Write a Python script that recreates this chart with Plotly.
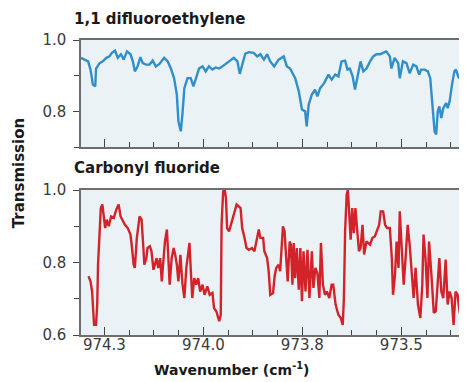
import plotly.graph_objects as go

# ---------------- data ----------------
blue_wn = [974.309, 974.291, 974.285, 974.279, 974.273, 974.271, 974.262, 974.254, 974.245, 974.237,
           974.231, 974.223, 974.216, 974.208, 974.201, 974.193, 974.184, 974.178, 974.173, 974.166,
           974.159, 974.153, 974.145, 974.136, 974.128, 974.120, 974.111, 974.105, 974.099, 974.090,
           974.082, 974.074, 974.067, 974.063, 974.057, 974.053, 974.048, 974.040, 974.032, 974.025,
           974.019, 974.011, 974.002, 973.994, 973.986, 973.977, 973.969, 973.960, 973.952, 973.940,
           973.923, 973.914, 973.908, 973.902, 973.894, 973.885, 973.873, 973.864, 973.856, 973.847,
           973.839, 973.831, 973.821, 973.810, 973.797, 973.789, 973.781, 973.768, 973.759, 973.751,
           973.743, 973.739, 973.734, 973.726, 973.718, 973.712, 973.705, 973.695, 973.684, 973.676,
           973.667, 973.659, 973.651, 973.642, 973.636, 973.630, 973.623, 973.617, 973.611, 973.603,
           973.596, 973.588, 973.579, 973.571, 973.563, 973.554, 973.546, 973.538, 973.529, 973.525,
           973.517, 973.508, 973.504, 973.496, 973.487, 973.479, 973.470, 973.462, 973.455, 973.450,
           973.441, 973.433, 973.427, 973.420, 973.416, 973.412, 973.408, 973.404, 973.399, 973.394,
           973.387, 973.383, 973.378, 973.372, 973.366, 973.362, 973.355, 973.349, 973.341, 973.335,
           973.330, 973.324, 973.319]
blue_tr = [0.950, 0.940, 0.917, 0.875, 0.870, 0.920, 0.935, 0.940, 0.950, 0.954,
           0.964, 0.970, 0.950, 0.960, 0.945, 0.968, 0.960, 0.940, 0.912, 0.926,
           0.952, 0.935, 0.931, 0.931, 0.942, 0.926, 0.933, 0.940, 0.950, 0.940,
           0.920, 0.893, 0.847, 0.772, 0.744, 0.790, 0.865, 0.893, 0.893, 0.870,
           0.889, 0.920, 0.926, 0.912, 0.926, 0.917, 0.923, 0.920, 0.926, 0.935,
           0.950, 0.940, 0.905, 0.930, 0.962, 0.966, 0.964, 0.954, 0.960, 0.945,
           0.960, 0.940, 0.926, 0.945, 0.954, 0.926, 0.920, 0.893, 0.856, 0.805,
           0.800, 0.758, 0.819, 0.847, 0.861, 0.842, 0.865, 0.879, 0.903, 0.889,
           0.903, 0.898, 0.940, 0.942, 0.917, 0.920, 0.898, 0.861, 0.898, 0.940,
           0.912, 0.920, 0.940, 0.954, 0.960, 0.960, 0.964, 0.968, 0.954, 0.920,
           0.950, 0.935, 0.893, 0.940, 0.935, 0.907, 0.931, 0.926, 0.903, 0.917,
           0.917, 0.912, 0.893, 0.809, 0.744, 0.735, 0.800, 0.814, 0.781, 0.809,
           0.823, 0.809, 0.828, 0.875, 0.912, 0.917, 0.893, 0.903, 0.898, 0.907,
           0.893, 0.847, 0.809]

red_wn = [974.290, 974.285, 974.281, 974.276, 974.271, 974.268, 974.266, 974.262, 974.259, 974.255,
          974.251, 974.248, 974.244, 974.239, 974.233, 974.226, 974.220, 974.214, 974.209, 974.203,
          974.198, 974.191, 974.184, 974.181, 974.176, 974.173, 974.168, 974.161, 974.156, 974.152,
          974.149, 974.144, 974.141, 974.135, 974.131, 974.126, 974.121, 974.118, 974.114, 974.109,
          974.105, 974.100, 974.097, 974.092, 974.089, 974.085, 974.080, 974.075, 974.071, 974.067,
          974.063, 974.058, 974.053, 974.048, 974.043, 974.038, 974.035, 974.032, 974.028, 974.023,
          974.018, 974.013, 974.008, 974.002, 973.997, 973.990, 973.984, 973.977, 973.973, 973.967,
          973.960, 973.956, 973.954, 973.950, 973.946, 973.943, 973.940, 973.935, 973.929, 973.923,
          973.916, 973.906, 973.902, 973.896, 973.891, 973.885, 973.877, 973.871, 973.866, 973.860,
          973.856, 973.849, 973.846, 973.839, 973.835, 973.831, 973.824, 973.820, 973.816, 973.810,
          973.806, 973.801, 973.799, 973.795, 973.791, 973.787, 973.782, 973.779, 973.775, 973.772,
          973.768, 973.764, 973.759, 973.755, 973.751, 973.747, 973.742, 973.737, 973.732, 973.726,
          973.722, 973.717, 973.712, 973.707, 973.703, 973.698, 973.693, 973.688, 973.682, 973.676,
          973.672, 973.666, 973.659, 973.653, 973.648, 973.645, 973.642, 973.638, 973.635, 973.631,
          973.628, 973.624, 973.620, 973.616, 973.611, 973.607, 973.603, 973.598, 973.594, 973.588,
          973.579, 973.573, 973.567, 973.561, 973.556, 973.552, 973.546, 973.541, 973.536, 973.529,
          973.524, 973.521, 973.516, 973.512, 973.507, 973.504, 973.499, 973.494, 973.489, 973.484,
          973.479, 973.474, 973.469, 973.464, 973.458, 973.452, 973.447, 973.444, 973.439, 973.434,
          973.430, 973.424, 973.418, 973.413, 973.408, 973.404, 973.399, 973.394, 973.388, 973.383,
          973.378, 973.373, 973.368, 973.363, 973.358, 973.353, 973.348, 973.343, 973.338, 973.333,
          973.331, 973.329]
red_tr = [0.762, 0.748, 0.720, 0.628, 0.628, 0.684, 0.794, 0.904, 0.950, 0.960,
          0.927, 0.895, 0.918, 0.900, 0.927, 0.923, 0.946, 0.960, 0.927, 0.914,
          0.904, 0.895, 0.877, 0.849, 0.794, 0.785, 0.868, 0.927, 0.918, 0.849,
          0.794, 0.812, 0.840, 0.845, 0.831, 0.780, 0.803, 0.812, 0.785, 0.812,
          0.748, 0.831, 0.858, 0.891, 0.831, 0.739, 0.812, 0.840, 0.821, 0.794,
          0.748, 0.821, 0.743, 0.702, 0.785, 0.831, 0.854, 0.785, 0.702, 0.757,
          0.739, 0.757, 0.720, 0.739, 0.711, 0.734, 0.711, 0.716, 0.674, 0.665,
          0.638, 0.656, 0.904, 0.996, 1.000, 0.978, 0.895, 0.886, 0.909, 0.937,
          0.960, 0.950, 0.895, 0.868, 0.840, 0.835, 0.840, 0.831, 0.863, 0.891,
          0.868, 0.868, 0.831, 0.812, 0.776, 0.711, 0.716, 0.762, 0.785, 0.794,
          0.776, 0.877, 0.900, 0.886, 0.812, 0.748, 0.858, 0.849, 0.739, 0.854,
          0.757, 0.840, 0.725, 0.840, 0.693, 0.831, 0.720, 0.835, 0.702, 0.831,
          0.730, 0.785, 0.771, 0.702, 0.854, 0.739, 0.711, 0.720, 0.702, 0.739,
          0.739, 0.684, 0.656, 0.647, 0.628, 0.702, 0.886, 0.987, 1.000, 0.923,
          0.863, 0.950, 0.881, 0.950, 0.868, 0.831, 0.840, 0.904, 0.822, 0.858,
          0.849, 0.868, 0.872, 0.891, 0.904, 0.941, 0.941, 0.904, 0.895, 0.895,
          0.812, 0.711, 0.766, 0.858, 0.785, 0.941, 0.831, 0.739, 0.817, 0.904,
          0.849, 0.785, 0.702, 0.785, 0.684, 0.647, 0.739, 0.877, 0.812, 0.702,
          0.858, 0.766, 0.661, 0.665, 0.739, 0.812, 0.720, 0.702, 0.808, 0.684,
          0.720, 0.702, 0.628, 0.720, 0.711, 0.665, 0.647, 0.656, 0.674, 0.720,
          0.812, 1.000]

x_tick_vals = [974.25, 974.0, 973.75, 973.5]
x_tick_text = ["974.3", "974.0", "973.8", "973.5"]
x_range = [974.309, 973.319]
top_title = "1,1 difluoroethylene"
bottom_title = "Carbonyl fluoride"

# ---------------- styling ----------------
W, H = 467, 382
L, R, T, B = 73, 467, 32, 327
pw, ph = R - L, B - T
TOP_BOTTOM_PX = 139
BOT_TOP_PX = 182


def py(p):
    return (B - p) / ph


def px(p):
    return (p - L) / pw


FONT = "DejaVu Sans"
axis_col = "#6e6e6e"
tick_font = dict(family=FONT, size=15, color="#3a3a3a")
bg = "#eaf2f6"

fig = go.Figure()
fig.add_trace(go.Scatter(x=blue_wn, y=blue_tr, mode="lines", xaxis="x", yaxis="y",
                         line=dict(color="#2f8fcb", width=2.4), showlegend=False))
fig.add_trace(go.Scatter(x=red_wn, y=red_tr, mode="lines", xaxis="x2", yaxis="y2",
                         line=dict(color="#d2232a", width=2.4), showlegend=False))

xcommon = dict(range=x_range, showline=True, linecolor=axis_col, linewidth=1.5, mirror=True,
               tickmode="array", tickvals=x_tick_vals, ticktext=x_tick_text,
               ticks="inside", ticklen=8, tickwidth=1.3, tickcolor="#444",
               minor=dict(tickmode="linear", tick0=974.0, dtick=0.0625, ticks="inside",
                          ticklen=5, tickwidth=1.2, tickcolor="#444", showgrid=False),
               showgrid=False, zeroline=False, tickfont=tick_font)
ycommon = dict(showline=True, linecolor=axis_col, linewidth=1.5, mirror=True,
               tick0=0, dtick=0.2, tickformat=".1f",
               ticks="outside", ticklen=6, tickwidth=1.3, tickcolor="#444",
               ticklabelstandoff=4,
               minor=dict(dtick=0.1, ticks="outside", ticklen=5, tickwidth=1.2,
                          tickcolor="#444", showgrid=False),
               showgrid=False, zeroline=False, tickfont=tick_font)

fig.update_layout(
    width=W, height=H,
    margin=dict(l=L, r=W - R, t=T, b=H - B),
    paper_bgcolor="white", plot_bgcolor=bg,
    xaxis=dict(**xcommon, domain=[0, 1], anchor="y", showticklabels=False),
    yaxis=dict(**ycommon, domain=[py(TOP_BOTTOM_PX), 1], range=[0.7, 1.0], anchor="x"),
    xaxis2=dict(**xcommon, domain=[0, 1], anchor="y2", showticklabels=True,
                ticklabelstandoff=-5),
    yaxis2=dict(**ycommon, domain=[0, py(BOT_TOP_PX)], range=[0.6, 1.0], anchor="x2"),
    annotations=[
        dict(text=f"<b>{top_title}</b>", xref="paper", yref="paper", x=px(64), y=py(11),
             xanchor="left", yanchor="middle", showarrow=False,
             font=dict(family=FONT, size=15, color="#1a1a1a")),
        dict(text=f"<b>{bottom_title}</b>", xref="paper", yref="paper", x=px(64), y=py(160),
             xanchor="left", yanchor="middle", showarrow=False,
             font=dict(family=FONT, size=15, color="#1a1a1a")),
        dict(text="<b>Wavenumber (cm<sup>-1</sup>)</b>", xref="paper", yref="paper",
             x=px(224), y=py(361), xanchor="center", yanchor="middle", showarrow=False,
             font=dict(family=FONT, size=14, color="#1a1a1a")),
        dict(text="<b>Transmission</b>", xref="paper", yref="paper", textangle=-90,
             x=px(10.5), y=py(165.5), xanchor="center", yanchor="middle", showarrow=False,
             font=dict(family=FONT, size=15, color="#1a1a1a")),
    ],
)

fig.write_html("out.html")
